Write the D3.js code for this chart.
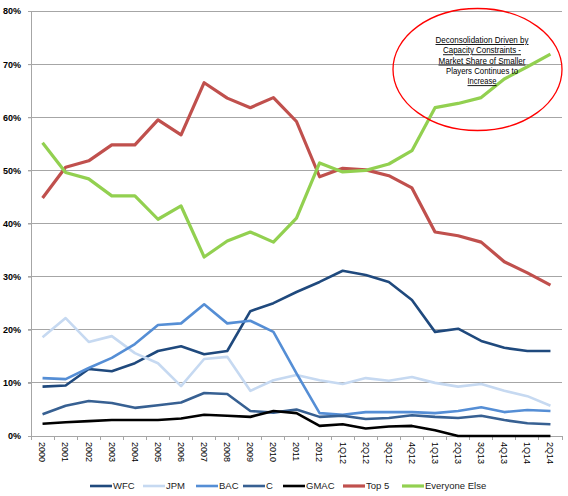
<!DOCTYPE html>
<html><head><meta charset="utf-8">
<script src="https://cdn.jsdelivr.net/npm/d3@7"></script>
<style>body{margin:0;background:#fff}svg{display:block}</style>
</head><body>
<svg id="c" width="568" height="496"></svg>
<script>
const categories = ["2000","2001","2002","2003","2004","2005","2006","2007","2008","2009","2010","2011","2012","1Q12","2Q12","3Q12","4Q12","1Q13","2Q13","3Q13","4Q13","1Q14","2Q14"];
const wfc   = [9.3,9.5,12.6,12.2,13.7,16.0,16.9,15.4,16.0,23.5,25.0,27.1,29.0,31.1,30.3,29.0,25.6,19.6,20.2,17.9,16.6,16.0,16.0];
const jpm   = [18.6,22.2,17.7,18.8,15.6,13.7,9.4,14.5,14.9,8.5,10.5,11.5,10.5,9.8,10.9,10.4,11.1,10.0,9.3,9.8,8.5,7.5,5.7];
const bac   = [10.9,10.7,12.8,14.7,17.3,20.9,21.2,24.8,21.2,21.7,19.6,11.8,4.3,4.0,4.5,4.5,4.5,4.3,4.7,5.4,4.5,4.9,4.7];
const citi  = [4.1,5.7,6.6,6.2,5.3,5.8,6.3,8.1,7.9,4.7,4.4,5.0,3.6,3.8,3.2,3.4,3.9,3.6,3.4,3.8,3.0,2.4,2.2];
const gmac  = [2.3,2.6,2.8,3.0,3.0,3.0,3.3,4.0,3.8,3.6,4.7,4.3,1.9,2.2,1.4,1.8,1.9,1.1,0,0,0,0,0];
const top5  = [44.8,50.6,51.8,54.8,54.8,59.5,56.7,66.5,63.6,61.8,63.7,59.2,48.8,50.4,50.1,49.0,46.7,38.4,37.7,36.5,32.8,30.7,28.4];
const other = [55.2,49.6,48.4,45.2,45.2,40.8,43.3,33.7,36.7,38.4,36.5,41.0,51.4,49.7,50.0,51.2,53.7,61.8,62.6,63.7,67.2,69.5,71.9];
const yTicks = [0,10,20,30,40,50,60,70,80];
const seriesNames = ["WFC","JPM","BAC","C","GMAC","Top 5","Everyone Else"];
const annotationLines = ["Deconsolidation Driven by","Capacity Constraints -","Market Share of Smaller","Players Continues to","Increase"];

const series = [
  {name:seriesNames[0], values:wfc,   color:"#1F497D", w:2.6},
  {name:seriesNames[1], values:jpm,   color:"#C6D9F1", w:2.6},
  {name:seriesNames[2], values:bac,   color:"#558ED5", w:2.6},
  {name:seriesNames[3], values:citi,  color:"#376092", w:2.6},
  {name:seriesNames[4], values:gmac,  color:"#000000", w:2.6},
  {name:seriesNames[5], values:top5,  color:"#C0504D", w:3.2},
  {name:seriesNames[6], values:other, color:"#92D050", w:3.2}
];

const svg = d3.select("#c");
const L = 31, R = 562, T = 11, B = 436;
const x = d3.scaleBand().domain(categories).range([L, R]);
const y = d3.scaleLinear().domain([0, 80]).range([B, T]);

// gridlines
svg.append("g").selectAll("line").data(yTicks.filter(d=>d>0)).join("line")
  .attr("x1", L-3).attr("x2", R).attr("y1", d=>y(d)).attr("y2", d=>y(d))
  .attr("stroke", "#A6A6A6").attr("stroke-width", 1).attr("shape-rendering","crispEdges");

// y axis
const yAxis = d3.axisLeft(y).tickValues(yTicks).tickSize(3).tickFormat(d=>d+"%");
const gy = svg.append("g").attr("transform", `translate(${L},0)`).call(yAxis);
gy.select(".domain").attr("stroke", "#A6A6A6").attr("shape-rendering","crispEdges");
gy.selectAll(".tick line").attr("stroke", "#A6A6A6");
gy.selectAll("text").attr("x", -10).attr("font-family","Liberation Sans, Arial, sans-serif")
  .attr("font-size", 9).attr("font-weight","bold").attr("fill","#000");

// x axis
const xAxis = d3.axisBottom(x).tickSize(0);
const gx = svg.append("g").attr("transform", `translate(0,${B})`).call(xAxis);
gx.select(".domain").attr("stroke", "#A6A6A6").attr("shape-rendering","crispEdges");
gx.selectAll("text").attr("transform","rotate(90)").attr("x", 6).attr("y", 0).attr("dy","0.35em")
  .attr("text-anchor","start").attr("font-family","Liberation Sans, Arial, sans-serif")
  .attr("font-size", 9).attr("fill","#000");
// boundary ticks
const bounds = categories.map(c=>x(c)).concat([R]);
svg.append("g").selectAll("line").data(bounds).join("line")
  .attr("x1", d=>d).attr("x2", d=>d).attr("y1", B).attr("y2", B+4)
  .attr("stroke","#A6A6A6").attr("shape-rendering","crispEdges");

// lines
const line = d3.line().x((d,i)=>x(categories[i]) + x.bandwidth()/2).y(d=>y(d));
svg.append("g").selectAll("path").data(series).join("path")
  .attr("d", s=>line(s.values)).attr("fill","none")
  .attr("stroke", s=>s.color).attr("stroke-width", s=>s.w).attr("stroke-linejoin","round");

// annotation
svg.append("ellipse").attr("cx", 477.5).attr("cy", 69.5).attr("rx", 84.5).attr("ry", 61)
  .attr("fill","none").attr("stroke","#FF0000").attr("stroke-width",1.3);
const annWidths = [93, 78, 87, 72, 29];
const ann = svg.append("g");
annotationLines.forEach((t,i)=>{
  ann.append("text").attr("x", 482).attr("y", 43 + i*10.3).attr("text-anchor","middle")
    .attr("font-family","Liberation Sans, Arial, sans-serif").attr("font-size", 9)
    .attr("textLength", annWidths[i]).attr("lengthAdjust","spacingAndGlyphs")
    .attr("fill","#000").attr("text-decoration", i===3 ? "none" : "underline").text(t);
});

// legend
const legendX = [90,143,196,243,283,343,402];
const lg = svg.append("g").selectAll("g").data(series).join("g")
  .attr("transform",(d,i)=>`translate(${legendX[i]},486)`);
lg.append("line").attr("x1",0).attr("x2",22).attr("y1",0).attr("y2",0)
  .attr("stroke", d=>d.color).attr("stroke-width", d=>d.w);
lg.append("text").attr("x",23).attr("y",0).attr("dy","0.35em")
  .attr("font-family","Liberation Sans, Arial, sans-serif").attr("font-size",9.5).attr("fill","#222")
  .text(d=>d.name);
</script>
</body></html>
